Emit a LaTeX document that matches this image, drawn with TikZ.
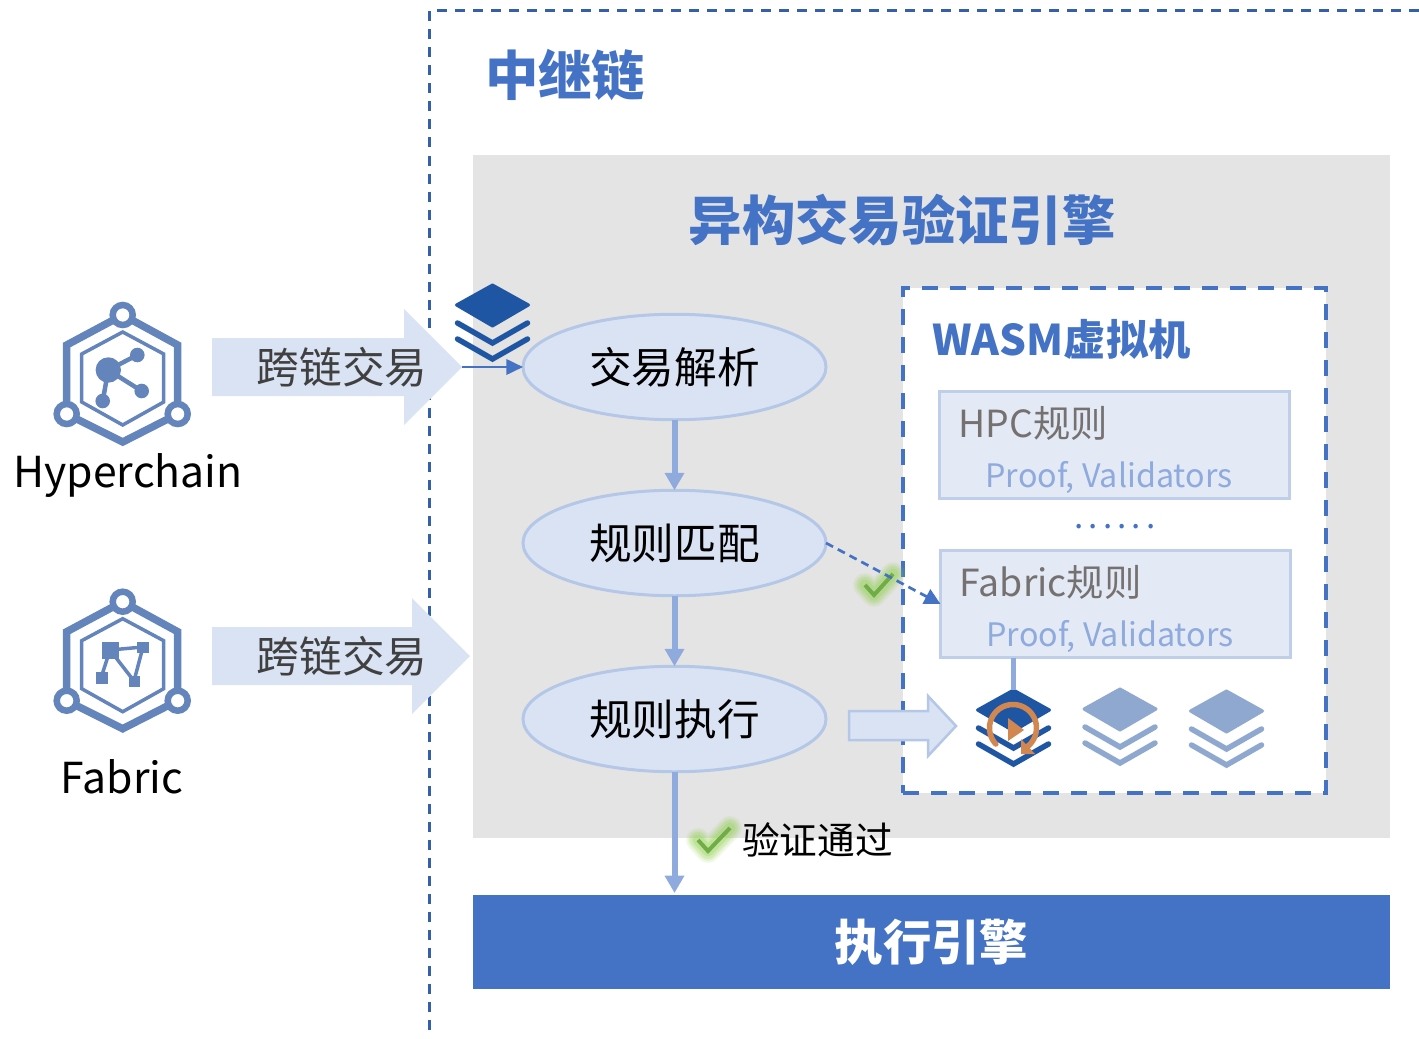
\documentclass[tikz,border=0pt]{standalone}
\usepackage{fontspec}
\setmainfont{Noto Sans CJK SC}
\usetikzlibrary{arrows.meta,shapes.geometric,calc}
\definecolor{mainblue}{HTML}{4472C4}
\definecolor{deepblue}{HTML}{3360A8}
\definecolor{stackblue}{HTML}{1F56A3}
\definecolor{paleblue}{HTML}{8EA8CF}
\definecolor{iconblue}{HTML}{6484BC}
\definecolor{arrowblue}{HTML}{8FAADC}
\definecolor{lightfill}{HTML}{DAE3F3}
\definecolor{lightline}{HTML}{B4C7E7}
\definecolor{ruleline}{HTML}{BFCFEA}
\definecolor{rulefill}{HTML}{E3E9F5}
\definecolor{greybg}{HTML}{E4E4E4}
\definecolor{darktext}{HTML}{404040}
\definecolor{greytext}{HTML}{767171}
\definecolor{orangeicon}{HTML}{D38750}
\definecolor{checkgreen}{HTML}{70AD47}
\definecolor{glowgreen}{HTML}{92D050}
\tikzset{
  px/.style={line width=#1*0.75pt},
  flowell/.style={ellipse,draw=lightline,fill=lightfill,px=3,minimum width=303*0.75pt,minimum height=105.5*0.75pt,inner sep=0pt,outer sep=0pt,font=\fontsize{32pt}{36pt}\selectfont,text=black},
  flowarrow/.style={draw=arrowblue,px=6,-{Triangle[length=13pt,width=14pt]}},
  rulebox/.style={draw=ruleline,fill=rulefill,px=3,minimum width=350*0.75pt,minimum height=107*0.75pt,inner sep=0pt,outer sep=0pt},
  bigarrow/.style={fill=lightfill},
  arrowlabel/.style={font=\fontsize{32pt}{36pt}\selectfont,text=darktext},
  rulename/.style={anchor=west,font=\fontsize{28pt}{32pt}\selectfont,text=greytext},
  ruleproof/.style={font=\fontsize{24.2pt}{30pt}\selectfont,text=arrowblue},
  chainname/.style={font=\fontsize{32pt}{38pt}\selectfont,text=black},
}
% hexagonal emblem: #1 x, #2 y of top ring centre
\newcommand{\hexicon}[2]{%
  \begin{scope}[shift={(#1,#2)}]
    \draw[iconblue,px=7.5,line join=miter] (0,0) -- (55,30) -- (55,99) -- (0,127) -- (-56,99) -- (-56,30) -- cycle;
    \draw[iconblue,px=3.5,line join=miter] (0,17) -- (41,39) -- (41,87) -- (0,110) -- (-41,87) -- (-41,39) -- cycle;
    \foreach \cx/\cy in {0/0,-56/99,55/99}
      \draw[iconblue,fill=white,px=6.5] (\cx,\cy) circle[radius=10];
  \end{scope}}
% layered stack: #1 x centre, #2 y top, #3 colour
\newcommand{\stackicon}[3]{%
  \begin{scope}[shift={(#1,#2)}]
    \fill[#3,draw=#3,px=3,line join=round] (0,2) -- (36,22) -- (0,43) -- (-36,22) -- cycle;
    \draw[#3,px=5.5,line cap=round,line join=miter] (-35,40) -- (0,60) -- (35,40);
    \draw[#3,px=5.5,line cap=round,line join=miter] (-35,56) -- (0,76) -- (35,56);
  \end{scope}}
% green tick with a glow: three corner points
\newcommand{\glowtick}[6]{%
  \foreach \w/\o in {24/0.12,20/0.16,16/0.22,11/0.28}
    \draw[glowgreen,px=\w,opacity=\o,line cap=round,line join=round] (#1,#2) -- (#3,#4) -- (#5,#6);
  \draw[checkgreen,px=4] (#1,#2) -- (#3,#4) -- (#5,#6);}
\begin{document}
\begin{tikzpicture}[x=0.75pt,y=-0.75pt]
\useasboundingbox (0,0) rectangle (1419,1038);
% frame of the relay chain
\draw[deepblue,px=3,dash pattern=on 7.5pt off 6pt] (1419,11) -- (429.5,11) -- (429.5,1030);
\node[anchor=center,font=\fontsize{40pt}{44pt}\selectfont\bfseries,text=mainblue] (relay) at (565,75) {中继链};
% grey engine panel
\node[fill=greybg,minimum width=917*0.75pt,minimum height=683*0.75pt,inner sep=0pt,outer sep=0pt] (panel) at (931.5,496.5) {};
\node[font=\fontsize{40pt}{46pt}\selectfont\bfseries,text=mainblue] (enginetitle) at (902,220) {异构交易验证引擎};
% WASM box
\node[draw=mainblue,fill=white,px=3.5,dash pattern=on 12pt off 9pt,minimum width=423*0.75pt,minimum height=505*0.75pt,inner sep=0pt,outer sep=0pt] (wasm) at (1114.5,540.5) {};
\node[font=\fontsize{31.7pt}{38pt}\selectfont\bfseries,text=mainblue] (wasmtitle) at (1061.5,339.5) {WASM虚拟机};
% rule boxes
\node[rulebox] (rule1) at (1114.5,445) {};
\node[rulebox] (rule2) at (1115.5,604) {};
\node[rulename] (r1name) at (954,423) {HPC规则};
\node[ruleproof] (r1proof) at (1109,477.5) {Proof, Validators};
\node[rulename] (r2name) at (955,582) {Fabric规则};
\node[ruleproof] (r2proof) at (1110,636.5) {Proof, Validators};
\node[font=\fontsize{25pt}{30pt}\selectfont\addfontfeature{LetterSpace=15},text=mainblue] (dots) at (1115,527) {......};
% flow ellipses
\node[flowell] (parse) at (674.5,367) {交易解析};
\node[flowell] (match) at (674.5,543) {规则匹配};
\node[flowell] (exec) at (674.5,719) {规则执行};
% execution bar
\node[fill=mainblue,minimum width=917*0.75pt,minimum height=94*0.75pt,inner sep=0pt,outer sep=0pt,font=\fontsize{36.3pt}{42pt}\selectfont\bfseries,text=white] (execbar) at (931.5,942) {执行引擎};
% big arrows
\fill[bigarrow] (212,338) -- (404,338) -- (404,309) -- (462,367) -- (404,425) -- (404,396) -- (212,396) -- cycle;
\coordinate (tip1) at (462,367);
\fill[bigarrow] (212,627) -- (412,627) -- (412,598) -- (470,656) -- (412,714) -- (412,685) -- (212,685) -- cycle;
\node[arrowlabel] (cross1) at (342,367) {跨链交易};
\node[arrowlabel] (cross2) at (342,656) {跨链交易};
\draw[fill=lightfill,draw=lightline,px=2.5] (849,711) -- (928,711) -- (928,696) -- (956,726) -- (928,756) -- (928,740) -- (849,740) -- cycle;
% stack icons
\stackicon{492.5}{283}{stackblue}
\stackicon{1013.5}{688}{stackblue}
\stackicon{1120}{687}{paleblue}
\stackicon{1226.5}{689}{paleblue}
% orange run symbol
\draw[orangeicon,px=5.5,line cap=round] plot[smooth,samples=40,domain=223:-62] ({1013+23.5*cos(\x)},{728-23.5*sin(\x)});
\fill[orangeicon] (1008,718) -- (1024,730) -- (1008,741) -- cycle;
\fill[orangeicon] (1021,739) -- (1035,754) -- (1021,754) -- cycle;
% connectors
\draw[mainblue,px=2.7,-{Triangle[length=12.5pt,width=11.5pt]}] (tip1) -- (parse.west);
\begin{scope}[xshift=-0.4pt]
\draw[flowarrow] (parse) -- (match);
\draw[flowarrow] (match) -- (exec);
\coordinate (execstop) at ($(execbar.north -| exec.south)+(0,-2)$);
\draw[flowarrow] (exec) -- (execstop);
\end{scope}
\coordinate (stacktop) at (1013.5,690);
\draw[arrowblue,px=5.5] (rule2.south -| stacktop) -- (stacktop);
% green ticks
\glowtick{865}{585}{874}{595}{893}{574}
\glowtick{698}{840}{708}{851}{730}{828}
\draw[mainblue,px=2.7,dash pattern=on 6pt off 4pt,-{Triangle[length=12pt,width=12pt]}] (match.east) -- (rule2.west);
\node[font=\fontsize{28.2pt}{32pt}\selectfont,text=black] (passed) at (817.5,839.5) {验证通过};
% Hyperchain emblem
\hexicon{122.7}{315}
\begin{scope}[iconblue]
  \draw[px=4.5] (108.3,370) -- (137.3,355) (108.3,370) -- (141.7,391) (108.3,370) -- (102.7,401);
  \fill (108.3,370) circle[radius=12.7];
  \fill (137.3,355) circle[radius=7.3];
  \fill (141.7,391) circle[radius=7.3];
  \fill (102.7,401) circle[radius=7.3];
\end{scope}
\node[chainname] (hyper) at (128,475.5) {Hyperchain};
% Fabric emblem
\hexicon{122.7}{601.7}
\begin{scope}[iconblue]
  \draw[px=3.5] (110,650) -- (143,647) (110,650) -- (101,678) (110,650) -- (134,681) (143,647) -- (134,681);
  \fill (101.7,641.7) rectangle (119.3,659.3);
  \fill (137.3,641.7) rectangle (149.3,653.3);
  \fill (95.7,672.3) rectangle (107.7,684.3);
  \fill (128.7,675.7) rectangle (140.3,687.3);
\end{scope}
\node[chainname] (fabric) at (122,777) {Fabric};
\end{tikzpicture}
\end{document}
